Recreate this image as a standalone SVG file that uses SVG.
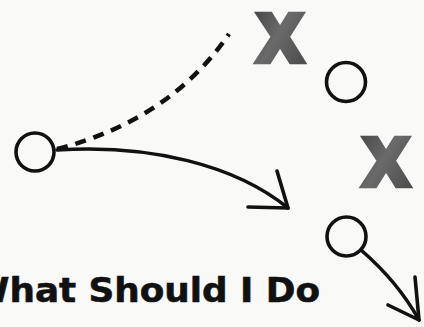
<svg xmlns="http://www.w3.org/2000/svg" width="424" height="327" viewBox="0 0 424 327">
  <defs>
    <linearGradient id="xg" x1="0" y1="0" x2="1" y2="1">
      <stop offset="0" stop-color="#474747"/>
      <stop offset="0.45" stop-color="#6a6a6a"/>
      <stop offset="1" stop-color="#4a4a4a"/>
    </linearGradient>
    <style>
      .ring{fill:none;stroke:#111;stroke-width:3.6}
      .line{fill:none;stroke:#111;stroke-width:3.6;stroke-linecap:round;stroke-linejoin:round}
      .dash{fill:none;stroke:#111;stroke-width:4.5;stroke-dasharray:11 8}
      .xmark{font-family:"Liberation Sans",Arial,sans-serif;font-weight:bold;font-size:66px;fill:url(#xg);stroke:url(#xg);stroke-width:6.5;stroke-linejoin:miter}
      .title{font-family:"DejaVu Sans","Liberation Sans",sans-serif;font-weight:bold;font-size:34px;fill:#111;stroke:#111;stroke-width:0.6}
    </style>
  </defs>
  <rect width="424" height="327" fill="#f9f9f8"/>

  <g id="connectors">
    <path class="dash" d="M57,149 Q170,120 229,34"/>
    <path class="line" d="M57,150 C150,144 235,165 288,208"/>
    <path class="line" d="M277,171 L288,208 L248,207"/>
    <path class="line" d="M361,250 Q398,282 419,320"/>
    <path class="line" d="M415,277 L419,320 L388,305"/>
  </g>

  <g id="node-start">
    <circle class="ring" cx="35" cy="152" r="19"/>
  </g>
  <g id="node-top-circle">
    <circle class="ring" cx="346" cy="82" r="19.5"/>
  </g>
  <g id="node-mid-circle">
    <circle class="ring" cx="346.5" cy="236.5" r="19.5"/>
  </g>
  <g id="node-x1">
    <text class="xmark" x="258" y="61">X</text>
  </g>
  <g id="node-x2">
    <text class="xmark" x="364" y="185">X</text>
  </g>

  <g id="title">
    <text class="title" x="-30" y="302" textLength="350" lengthAdjust="spacingAndGlyphs">What Should I Do</text>
  </g>
</svg>
